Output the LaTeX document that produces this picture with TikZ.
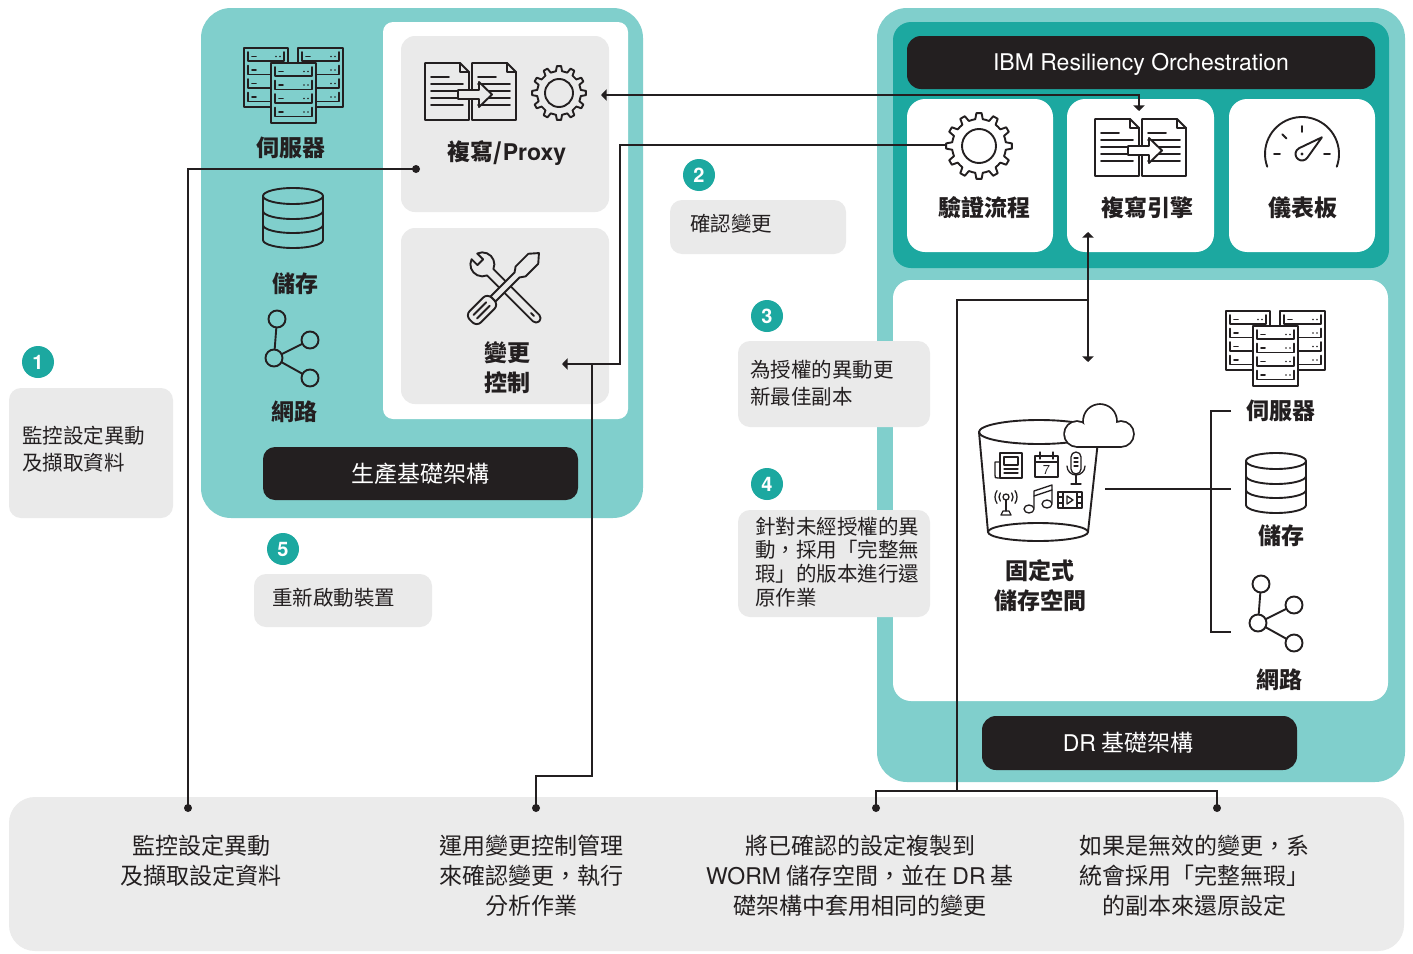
\documentclass[tikz,border=0pt]{standalone}
\usepackage{fontspec}
\setmainfont{Noto Sans CJK TC}
\newfontfamily\hv{TeX Gyre Heros}
\usetikzlibrary{arrows.meta,fit}

\definecolor{tealL}{HTML}{80CFCC}
\definecolor{tealD}{HTML}{1CA8A0}
\definecolor{ink}{HTML}{231F20}
\definecolor{paleg}{HTML}{EAEAEA}
\definecolor{paleb}{HTML}{EBEBEB}

\newcommand\fsz[2]{\fontsize{#1}{#2}\selectfont}

\tikzset{
  panel/.style={inner sep=0pt, outer sep=0pt, draw=none},
  conn/.style={draw=ink, line width=0.95pt},
  tipend/.style={arrows={-Triangle[length=2.8pt,width=5.6pt]}},
  tipboth/.style={arrows={Triangle[length=2.8pt,width=5.6pt]-Triangle[length=2.8pt,width=5.6pt]}},
  lbl/.style={font=\fsz{11.5}{15}\bfseries, text=ink, align=center, inner sep=0pt},
  steptxt/.style={font=\fsz{10.25}{13.5}, text=ink, align=left, inner sep=0pt, anchor=west},
  bottxt/.style={font=\fsz{11.5}{15}, text=ink, align=center, inner sep=0pt},
  bartxt/.style={font=\fsz{11.5}{15}, text=white, inner sep=0pt},
  num/.style={circle, fill=tealD, text=white, font=\hv\bfseries\fsz{10}{10}, minimum size=16pt, inner sep=0pt},
  icon/.style={color=ink, line width=0.95pt, line join=round, line cap=round},
  enddot/.style={fill=ink}
}

% one server rack with four slots, top-left corner at (#1,#2)
\newcommand\rackunit[5]{%
  \begin{scope}[shift={(#1,#2)}]
    \filldraw[fill=#5] (0,0) rectangle (#3,#4);
    \foreach \i in {0,...,3}{
      \pgfmathsetmacro\ry{4+13.5*\i}
      \draw (4,\ry) -- (4,\ry+9) -- (#3-4,\ry+9) -- (#3-4,\ry);
      \draw (8,\ry+4.5) -- (12,\ry+4.5);
      \fill (#3-12,\ry+4.5) circle (0.9);
      \fill (#3-8,\ry+4.5) circle (0.9);
    }
  \end{scope}}

% three racks
\newcommand\servers[3]{%
  \begin{scope}[shift={(#1,#2)}, icon]
    \rackunit{0}{0}{44}{59}{#3}
    \rackunit{54}{0}{45}{59}{#3}
    \rackunit{27}{15}{45}{60}{#3}
  \end{scope}}

% disk stack, centre x and top y
\newcommand\storage[2]{%
  \begin{scope}[shift={(#1,#2)}, icon]
    \draw (0,8) ellipse [x radius=30, y radius=8];
    \draw (-30,8) -- (-30,52) (30,8) -- (30,52);
    \foreach \c in {23,37,52}
      \draw (-30,\c) arc[start angle=180, end angle=0, x radius=30, y radius=8];
  \end{scope}}

% network graph, centre of the hub circle
\newcommand\network[3]{%
  \begin{scope}[shift={(#1,#2)}, icon]
    \draw (0,0) -- (3,-39) (0,0) -- (36,-18) (0,0) -- (36,20);
    \foreach \p in {(0,0),(3,-39),(36,-18),(36,20)}
      \filldraw[fill=#3] \p circle (8.5);
  \end{scope}}

% cog wheel: centre, tip radius, root radius, hole radius
\newcommand\gear[5]{%
  \begin{scope}[shift={(#1,#2)}, icon]
    \draw ({-8}:#4) \foreach \a in {0,30,...,330}{
        -- ({\a-8}:#4) -- ({\a-4.5}:#3) -- ({\a+4.5}:#3) -- ({\a+8}:#4)
        arc[start angle=\a+8, end angle=\a+22, radius=#4]} -- cycle;
    \draw (0,0) circle (#5);
  \end{scope}}

% two pages with a copy arrow, top-left corner
\newcommand\docs[3]{%
  \begin{scope}[shift={(#1,#2)}, icon]
    \foreach \dx in {0,47}{
      \draw (\dx,0) -- (\dx+35,0) -- (\dx+44,9) -- (\dx+44,57) -- (\dx,57) -- cycle;
      \draw (\dx+35,0) -- (\dx+35,9) -- (\dx+44,9);
      \draw (\dx+6,14) -- (\dx+24,14);
      \foreach \yy in {21,28,35,42} \draw (\dx+6,\yy) -- (\dx+38,\yy);
    }
    \filldraw[fill=#3] (33,27) -- (54,27) -- (54,19) -- (67,31.5) -- (54,44) -- (54,36) -- (33,36) -- cycle;
  \end{scope}}

% wrench and screwdriver crossed
\newcommand\tools[3]{%
  \begin{scope}[shift={(#1,#2)}, icon]
    \begin{scope}[rotate=-45]
      \filldraw[fill=#3] (44,-4.5) -- (-20.9,-4.5)
        arc[start angle=-22, end angle=-160.5, radius=12] -- (-35,-4) -- (-35,4) -- (-43.3,4)
        arc[start angle=160.5, end angle=22, radius=12] -- (44,4.5)
        arc[start angle=90, end angle=-90, radius=4.5] -- cycle;
      \draw (37,0) -- (41,0);
    \end{scope}
    \begin{scope}[rotate=45]
      \filldraw[fill=#3] (-17,-3.5) -- (17,-3.5) -- (22,-7) -- (40,-7) -- (48,0) -- (40,7) -- (22,7) -- (17,3.5) -- (-17,3.5) -- cycle;
      \filldraw[fill=#3, rounded corners=3pt] (-48,-8) rectangle (-17,8);
      \draw (-42,-2.5) -- (-24,-2.5) (-42,2.5) -- (-24,2.5);
    \end{scope}
  \end{scope}}

% dashboard gauge
\newcommand\gauge[2]{%
  \begin{scope}[shift={(#1,#2)}, icon]
    \draw (-200:37) arc[start angle=-200, end angle=20, radius=37];
    \foreach \t in {180,-135,-90,0} \draw (\t:22) -- (\t:28);
    \draw (-40:26) -- (35.5:6.5) arc[start angle=35.5, end angle=244.5, radius=6.5] -- cycle;
    \fill (0,0) circle (1.6);
  \end{scope}}

\begin{document}
\begin{tikzpicture}[x=0.5pt,y=-0.5pt]
\useasboundingbox (0,0) rectangle (1413,953);
\fill[white] (0,0) rectangle (1413,953);

% ---------- production infrastructure ----------
\node[panel, fill=tealL, rounded corners=15pt, fit={(201,8)(643,518)}] (prod) {};
\node[panel, fill=white, rounded corners=5pt, fit={(383,22)(628,419)}] (prodin) {};
\node[panel, fill=paleg, rounded corners=7pt, fit={(401,36)(609,212)}] (proxybox) {};
\node[panel, fill=paleg, rounded corners=7pt, fit={(401,228)(609,404)}] (chgbox) {};
\node[panel, fill=ink, rounded corners=6pt, fit={(263,447)(578,500)}] (prodbar) {};
\node[bartxt] (prodbartxt) at (420,474) {生產基礎架構};

\servers{244}{48}{tealL}
\node[lbl] (lsrv) at (291,148) {伺服器};
\storage{293}{188}
\node[lbl] (lsto) at (295,284) {儲存};
\network{274}{358}{tealL}
\node[lbl] (lnet) at (294,412) {網路};

\docs{425}{63}{paleg}
\gear{559}{93}{27}{22}{14}
\node[lbl] (lproxy) at (507,153) {複寫/{\hv\bfseries Proxy}};
\tools{505}{287}{paleg}
\node[lbl] (lchg) at (507,368) {變更\\控制};

% ---------- DR infrastructure ----------
\node[panel, fill=tealL, rounded corners=15pt, fit={(877,8)(1405,782)}] (dr) {};
\node[panel, fill=tealD, rounded corners=9pt, fit={(893,22)(1389,268)}] (orch) {};
\node[panel, fill=ink, rounded corners=7pt, fit={(907,36)(1375,89)}] (ibmbar) {};
\node[bartxt, font=\hv\fsz{11.5}{15}] (ibmtxt) at (1141,64) {IBM Resiliency Orchestration};
\node[panel, fill=white, rounded corners=9pt, fit={(907,99)(1053,252)}] (valbox) {};
\node[panel, fill=white, rounded corners=9pt, fit={(1067,99)(1214,252)}] (engbox) {};
\node[panel, fill=white, rounded corners=9pt, fit={(1229,99)(1375,252)}] (dashbox) {};
\node[panel, fill=white, rounded corners=9pt, fit={(893,280)(1388,701)}] (drin) {};
\node[panel, fill=ink, rounded corners=7pt, fit={(982,716)(1297,770)}] (drbar) {};
\node[bartxt] (drbartxt) at (1128,743) {{\hv DR} 基礎架構};

\gear{979}{146}{33}{27}{17}
\node[lbl] (lval) at (984,208) {驗證流程};
\docs{1095}{119}{white}
\node[lbl] (leng) at (1147,208) {複寫引擎};
\gauge{1302}{154}
\node[lbl] (ldash) at (1303,208) {儀表板};

% immutable storage bucket
\begin{scope}[icon]
  \draw (1039,432) ellipse [x radius=60, y radius=12];
  \draw (1038,532) ellipse [x radius=50, y radius=9];
  \draw (979,432) -- (988,532) (1099,432) -- (1088,532);
  % cloud
  \foreach \c/\r in {{(1077,434)}/12, {(1100,421)}/16, {(1121,434)}/12}
    \draw[line width=1.8pt] \c circle (\r);
  \draw[line width=1.8pt] (1077,430) rectangle (1121,446);
  \foreach \c/\r in {{(1077,434)}/12, {(1100,421)}/16, {(1121,434)}/12}
    \fill[white] \c circle (\r);
  \fill[white] (1077,430) rectangle (1121,446);
  \begin{scope}[line width=0.65pt]
    % newspaper
    \draw (1000,453) rectangle (1022,478);
    \draw (1000,462) -- (995,462) -- (995,475) .. controls (995,478) .. (998,478) -- (1000,478);
    \draw (1004,457) rectangle (1018,465);
    \draw (1004,469) -- (1018,469) (1004,473) -- (1018,473);
    % calendar
    \draw (1035,456) rectangle (1058,477);
    \draw (1035,462) -- (1058,462);
    \draw (1040,452) -- (1040,459) (1053,452) -- (1053,459);
    % microphone
    \draw[rounded corners=2.5pt] (1071,452) rectangle (1081,474);
    \draw (1074,458) -- (1078,458) (1074,462) -- (1078,462) (1074,466) -- (1078,466);
    \draw (1067,466) arc[start angle=180, end angle=0, radius=9];
    \draw (1076,475) -- (1076,483) (1071,484) -- (1081,484);
    % antenna
    \draw (1006,497) circle (3);
    \draw (1006,500) -- (1006,511);
    \draw (1001,515) -- (1003,511) -- (1009,511) -- (1011,515) -- cycle;
    \foreach \rr in {7,11}{
      \draw (1006,497) ++(145:\rr) arc[start angle=145, end angle=215, radius=\rr];
      \draw (1006,497) ++(-35:\rr) arc[start angle=-35, end angle=35, radius=\rr];
    }
    % music note
    \draw (1029,509) ellipse [x radius=5, y radius=4];
    \draw (1047,504) ellipse [x radius=5, y radius=4];
    \draw (1034,508) -- (1034,491) -- (1052,485) -- (1052,503);
    \draw (1034,496) -- (1052,490);
    % film
    \draw (1058,492) rectangle (1082,508);
    \draw (1063,492) -- (1063,508) (1077,492) -- (1077,508);
    \draw (1058,497) -- (1063,497) (1058,503) -- (1063,503) (1077,497) -- (1082,497) (1077,503) -- (1082,503);
    \draw (1067,496) -- (1073,500) -- (1067,504) -- cycle;
  \end{scope}
\end{scope}
\node[font=\hv\fsz{6.5}{7}, text=ink, inner sep=0pt] (cal7) at (1046.5,470) {7};
\node[lbl] (lworm) at (1040,586) {固定式\\儲存空間};

\servers{1226}{311}{white}
\node[lbl] (dsrv) at (1281,411) {伺服器};
\storage{1276}{453}
\node[lbl] (dsto) at (1281,536) {儲存};
\network{1258}{623}{white}
\node[lbl] (dnet) at (1279,680) {網路};

% ---------- numbered steps ----------
\node[panel, fill=paleg, rounded corners=6pt, fit={(9,388)(173,518)}] (s1box) {};
\node[panel, fill=paleg, rounded corners=6pt, fit={(670,200)(846,254)}] (s2box) {};
\node[panel, fill=paleg, rounded corners=6pt, fit={(738,341)(930,427)}] (s3box) {};
\node[panel, fill=paleg, rounded corners=6pt, fit={(738,510)(930,617)}] (s4box) {};
\node[panel, fill=paleg, rounded corners=6pt, fit={(254,574)(432,627)}] (s5box) {};
\node[num] (c1) at (38,362) {1};
\node[num] (c2) at (699,175) {2};
\node[num] (c3) at (767,316) {3};
\node[num] (c4) at (767,484) {4};
\node[num] (c5) at (283,549) {5};
\node[steptxt] (t1) at (22,449) {監控設定異動\\及擷取資料};
\node[steptxt] (t2) at (690,224) {確認變更};
\node[steptxt] (t3) at (750,383) {為授權的異動更\\新最佳副本};
\node[steptxt, font=\fsz{10.25}{11.9}] (t4) at (755,562) {針對未經授權的異\\動，採用「完整無\\瑕」的版本進行還\\原作業};
\node[steptxt] (t5) at (272,598) {重新啟動裝置};

% ---------- outcome strip ----------
\node[panel, fill=paleb, rounded corners=13pt, fit={(9,797)(1404,951)}] (strip) {};
\node[bottxt] (o1) at (201,861) {監控設定異動\\及擷取設定資料};
\node[bottxt] (o2) at (531,876) {運用變更控制管理\\來確認變更，執行\\分析作業};
\node[bottxt] (o3) at (860,876) {將已確認的設定複製到\\{\hv WORM} 儲存空間，並在 {\hv DR} 基\\礎架構中套用相同的變更};
\node[bottxt] (o4) at (1194,876) {如果是無效的變更，系\\統會採用「完整無瑕」\\的副本來還原設定};

% ---------- connectors ----------
\coordinate (pxdot) at (416,169);
\coordinate (m1) at (188,808);
\coordinate (gearin) at (601,95);
\coordinate (engin) at (1139,111);
\coordinate (valgear) at (946,145);
\coordinate (bendC) at (620,364);
\coordinate (chgin) at (562,364);
\coordinate (chgtap) at (592,364);
\coordinate (bendD) at (536,776);
\coordinate (m2) at (536,808);
\coordinate (engbot) at (1088,232);
\coordinate (bucketin) at (1088,362);
\coordinate (drjoin) at (1088,300);
\coordinate (brk) at (957,791);
\coordinate (m3) at (876,808);
\coordinate (m4) at (1217,808);
\coordinate (bucketR) at (1105,489);
\coordinate (brmid) at (1231,489);
\coordinate (brA) at (1231,411);
\coordinate (brB) at (1211,632);
\coordinate (brC) at (1231,632);

\draw[conn] (pxdot) -| (m1);
\draw[conn, tipboth] (gearin) -| (engin);
\draw[conn, tipend] (valgear) -| (bendC) |- (chgin);
\draw[conn] (chgtap) |- (bendD) -- (m2);
\draw[conn, tipboth] (engbot) -- (bucketin);
\draw[conn] (drjoin) -| (brk);
\draw[conn] (m3) |- (brk) -| (m4);
\draw[conn, line width=1.4pt] (bucketR) -- (brmid);
\draw[conn] (brA) -| (brB) -- (brC);
\foreach \d in {pxdot,m1,m2,m3,m4} \fill[enddot] (\d) circle (4);

\end{tikzpicture}
\end{document}
